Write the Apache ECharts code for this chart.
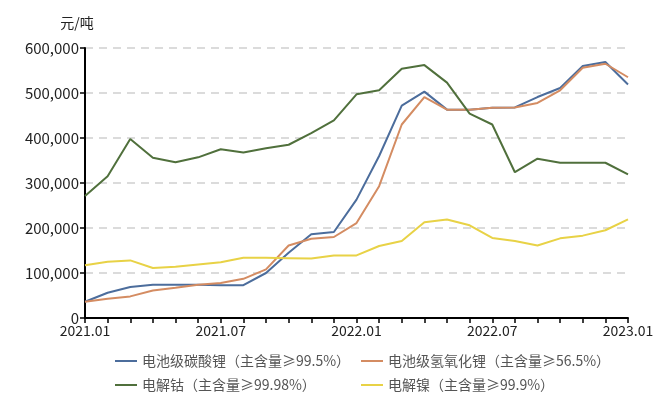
<!DOCTYPE html>
<html>
<head>
<meta charset="utf-8">
<script src="https://cdn.jsdelivr.net/npm/echarts@6/dist/echarts.min.js"></script>
<style>
  html, body { margin: 0; padding: 0; background: #fff; }
  #main { width: 666px; height: 399px; }
</style>
</head>
<body>
<div id="main"></div>
<script>
// 月份 2021.01 - 2023.01
const months = [
  '2021.01', '2021.02', '2021.03', '2021.04', '2021.05', '2021.06',
  '2021.07', '2021.08', '2021.09', '2021.10', '2021.11', '2021.12',
  '2022.01', '2022.02', '2022.03', '2022.04', '2022.05', '2022.06',
  '2022.07', '2022.08', '2022.09', '2022.10', '2022.11', '2022.12',
  '2023.01'
]
const seriesNames = [
  '电池级碳酸锂（主含量≥99.5%）',
  '电池级氢氧化锂（主含量≥56.5%）',
  '电解钴（主含量≥99.98%）',
  '电解镍（主含量≥99.9%）'
]
// 元/吨
const lithiumCarbonate = [
  36000, 56000, 69000, 74000, 74000, 74000, 73000, 73000, 100000, 145000,
  186000, 191000, 263000, 360000, 472000, 503000, 463000, 463000, 467000, 468000,
  491000, 511000, 560000, 569000, 519000
]
const lithiumHydroxide = [
  36000, 43000, 48000, 61000, 67000, 74000, 78000, 87000, 108000, 161000,
  176000, 180000, 211000, 293000, 430000, 491000, 463000, 463000, 467000, 468000,
  478000, 506000, 556000, 565000, 535000
]
const cobalt = [
  271000, 315000, 398000, 356000, 346000, 357000, 375000, 368000, 377000, 385000,
  411000, 439000, 497000, 506000, 554000, 562000, 523000, 454000, 430000, 324000,
  354000, 345000, 345000, 345000, 319000
]
const nickel = [
  117000, 125000, 128000, 111000, 114000, 119000, 124000, 134000, 134000, 133000,
  132000, 139000, 139000, 160000, 171000, 213000, 219000, 206000, 178000, 171000,
  161000, 177000, 183000, 195000, 219000
]
const colors = ['#4c6d9c', '#d48c62', '#50703c', '#e8d246']

const chart = echarts.init(document.getElementById('main'), null, { renderer: 'canvas' })

const fontFamily = '"Noto Sans CJK SC", "Noto Sans", sans-serif'

function makeLine(name, data, color) {
  return {
    name: name,
    type: 'line',
    data: data,
    symbol: 'none',
    lineStyle: { color: color, width: 2 },
    itemStyle: { color: color }
  }
}

// 两列图例
function makeLegend(left, names) {
  return {
    orient: 'vertical',
    left: left,
    top: 352,
    padding: 0,
    itemWidth: 22,
    itemHeight: 2,
    itemGap: 6,
    icon: 'rect',
    textStyle: { fontSize: 14, color: '#555', fontFamily: fontFamily, lineHeight: 18 },
    data: names
  }
}

const option = {
  animation: false,
  color: colors,
  textStyle: { fontFamily: fontFamily },
  grid: { left: 85, right: 38, top: 48, bottom: 81, containLabel: false },
  legend: [
    makeLegend(115, [seriesNames[0], seriesNames[2]]),
    makeLegend(361, [seriesNames[1], seriesNames[3]])
  ],
  xAxis: {
    type: 'category',
    data: months,
    boundaryGap: false,
    axisLine: { lineStyle: { color: '#000', width: 2 } },
    axisTick: {
      show: true,
      interval: 0,
      length: 5,
      lineStyle: { color: '#000', width: 1.5 }
    },
    axisLabel: {
      interval: 5,
      color: '#222',
      fontSize: 14,
      margin: 6,
      fontFamily: fontFamily
    },
    splitLine: { show: false }
  },
  yAxis: {
    type: 'value',
    min: 0,
    max: 600000,
    interval: 100000,
    name: '元/吨',
    nameLocation: 'end',
    nameGap: 18,
    nameTextStyle: { color: '#222', fontSize: 14, align: 'center', padding: [0, 16, 0, 0] },
    axisLine: { show: true, lineStyle: { color: '#000', width: 2 } },
    axisTick: { show: true, length: 5, lineStyle: { color: '#000', width: 1.5 } },
    axisLabel: {
      color: '#222',
      fontSize: 15,
      margin: 6,
      fontFamily: fontFamily,
      formatter: v => v.toLocaleString('en-US')
    },
    splitLine: {
      show: true,
      lineStyle: { color: '#cfcfcf', type: [8, 6], width: 1.5 }
    }
  },
  series: [
    makeLine(seriesNames[0], lithiumCarbonate, colors[0]),
    makeLine(seriesNames[1], lithiumHydroxide, colors[1]),
    makeLine(seriesNames[2], cobalt, colors[2]),
    makeLine(seriesNames[3], nickel, colors[3])
  ]
}

chart.setOption(option)
</script>
</body>
</html>
